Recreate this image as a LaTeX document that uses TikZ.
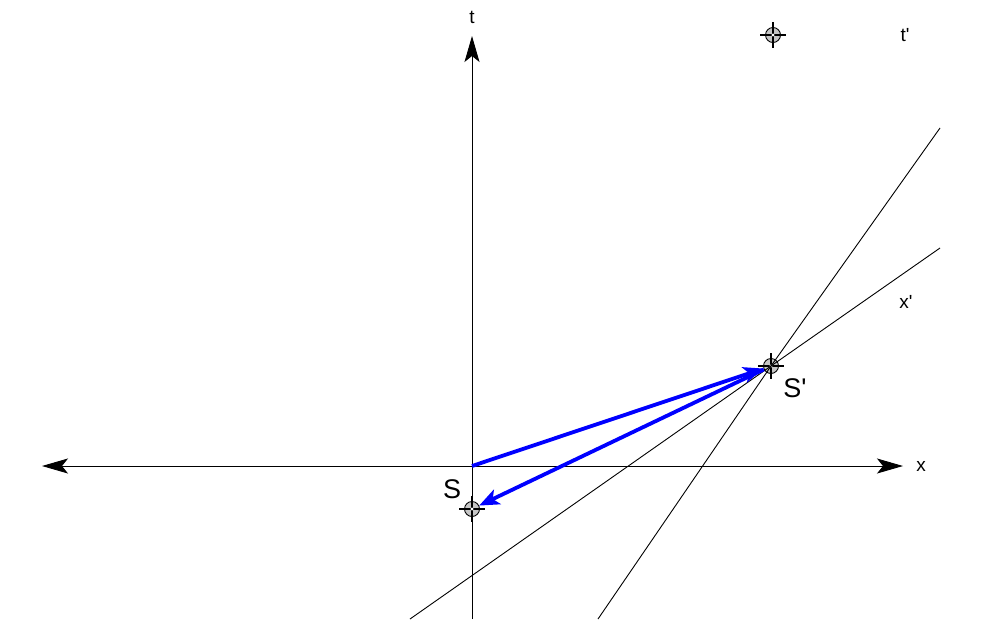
\documentclass[tikz,border=0pt]{standalone}
\usepackage{fontspec}
\setmainfont{Liberation Sans}
\usetikzlibrary{arrows.meta}
\usetikzlibrary{calc}

\begin{document}
\begin{tikzpicture}[x=1pt, y=-1pt,
  axis/.style={line width=0.9pt, -{Stealth[length=26pt, width=15pt, inset=6pt]}},
  worldline/.style={line width=0.9pt},
  vec/.style={blue, line width=3.8pt, -{Stealth[length=20pt, width=16pt, inset=5pt]}},
  event/.style={draw, circle, fill=gray!45, line width=0.9pt, minimum size=15pt, inner sep=0pt},
  small/.style={font=\fontsize{19}{22}\selectfont},
  big/.style={font=\fontsize{27}{30}\selectfont}]
  \useasboundingbox (0,0) rectangle (982,619);

  % axes
  \coordinate (O) at (472,466);
  \coordinate (xl) at (42,466);
  \coordinate (xr) at (903,466);
  \coordinate (tb) at (472,619);
  \coordinate (tt) at (472,36);
  \draw[axis] (O) -- (xl);
  \draw[axis] (O) -- (xr);
  \draw[worldline] (tb) -- (O);
  \draw[axis] (O) -- (tt);

  \node[small] (tlab) at (472,17) {t};
  \node[small] (xlab) at (921,466) {x};

  % events
  \node[event] (S) at (472,509) {};
  \node[event] (Sp) at (771,366) {};
  \node[event] (tp) at (773,35) {};
  \foreach \m in {S,Sp,tp} {
    \draw[line width=1.1pt] ($(\m.center)+(-13,0)$) -- ($(\m.center)+(13,0)$);
    \draw[line width=1.1pt] ($(\m.center)+(0,-13)$) -- ($(\m.center)+(0,13)$);
    \fill[white] (\m.center) circle (1.6);
  }
  \node[big] (Slab) at (452,489) {S};
  \node[big] (Splab) at (795,388) {S\textquotesingle};
  \node[small] (tplab) at (905,35) {t\textquotesingle};
  \node[small] (xplab) at (906,302) {x\textquotesingle};

  % primed axes through S'
  \coordinate (xp0) at (410,619);
  \coordinate (xp1) at (940,248);
  \coordinate (tp0) at (598,619);
  \coordinate (tp1) at (940,128);
  \draw[worldline] (xp0) -- (Sp.center) -- (xp1);
  \draw[worldline] (tp0) -- (Sp.center) -- (tp1);

  % vectors
  \draw[vec] (O) -- (Sp);
  \draw[vec] (Sp) -- (S);
\end{tikzpicture}
\end{document}
